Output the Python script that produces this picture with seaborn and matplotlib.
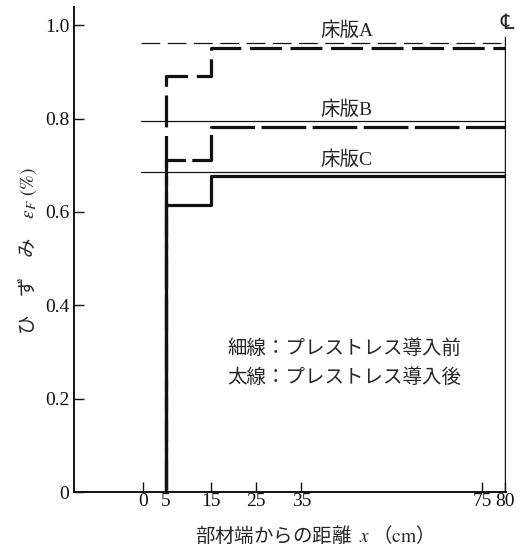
import matplotlib
matplotlib.use('Agg')
import pandas as pd
import matplotlib.pyplot as plt
import seaborn as sns

# ひずみ εF (%) 読み取り値
slabs = ['床版A', '床版B', '床版C']
before = [0.963, 0.794, 0.685]        # 細線：プレストレス導入前
after_5_15 = [0.891, 0.711, 0.615]    # 太線：x = 5〜15 cm
after_15_80 = [0.951, 0.781, 0.677]   # 太線：x = 15〜80 cm
step_x = [5, 15, 80]                  # 段の位置 (cm)
thin_start = -0.5
center_x = 80

x_ticks = [0, 5, 15, 25, 35, 75, 80]
y_ticks = [0, 0.2, 0.4, 0.6, 0.8, 1.0]
y_ticklabels = ['0', '0.2', '0.4', '0.6', '0.8', '1.0']

sns.set_theme(style='ticks')
plt.rcParams['font.family'] = ['Liberation Serif', 'Noto Sans CJK JP', 'DejaVu Sans']
plt.rcParams['mathtext.fontset'] = 'stix'

fig = plt.figure(figsize=(5.24, 5.49), dpi=100)
ax = fig.add_axes([0.1412, 0.1038, 0.8252, 0.8834])

thin_styles = [(0, (15, 6)), '-', '-']
thick_styles = [(0, (10, 2.7)), (0, (14, 2)), '-']

for i, name in enumerate(slabs):
    thin = pd.DataFrame({'x': [thin_start, center_x], 'y': [before[i], before[i]]})
    sns.lineplot(data=thin, x='x', y='y', sort=False, estimator=None,
                 color='#111111', linewidth=0.9, linestyle=thin_styles[i], ax=ax)

    thick = pd.DataFrame({
        'x': [step_x[0], step_x[0], step_x[1], step_x[1], step_x[2]],
        'y': [0, after_5_15[i], after_5_15[i], after_15_80[i], after_15_80[i]],
    })
    sns.lineplot(data=thick, x='x', y='y', sort=False, estimator=None,
                 color='#111111', linewidth=2.3, linestyle=thick_styles[i], ax=ax)

    ax.text(45, before[i] + 0.026, name, ha='center', va='center', fontsize=14)

# 中心線
sns.lineplot(x=[center_x, center_x], y=[0, 0.975], sort=False, estimator=None,
             color='#111111', linewidth=1.0, ax=ax)
ax.text(80.4, 1.004, '\u2104', ha='center', va='center', fontsize=15,
        family=['DejaVu Sans', 'Noto Sans CJK JP'], clip_on=False)

ax.text(18.6, 0.308, '細線：プレストレス導入前', ha='left', va='center', fontsize=14)
ax.text(18.6, 0.246, '太線：プレストレス導入後', ha='left', va='center', fontsize=14)

ax.set_xlim(-15.25, 80.3)
ax.set_ylim(0, 1.039)
ax.set_xticks(x_ticks)
ax.set_xticklabels([str(t) for t in x_ticks])
ax.set_yticks(y_ticks)
ax.set_yticklabels(y_ticklabels)
ax.tick_params(axis='both', direction='in', length=7, width=1.0, labelsize=14,
               colors='#111111')
ax.tick_params(axis='x', pad=0.5)
ax.tick_params(axis='y', pad=3.5)

sns.despine(ax=ax)
for side in ['left', 'bottom']:
    ax.spines[side].set_linewidth(1.4)
    ax.spines[side].set_color('#111111')

# mathtext の地の文は先頭フォントで描かれるので CJK フォントを先に
ax.set_xlabel('部材端からの距離  $x$ （$\\mathrm{cm}$）', fontsize=14,
              family=['Noto Sans CJK JP'])
ax.xaxis.label.set_va('center')
ax.xaxis.set_label_coords(0.543, -0.091)
ax.set_ylabel('ひ\u3000ず\u3000み\u3000$\\varepsilon_F\\ (\\%)$', fontsize=14,
              family=['Noto Sans CJK JP'])
ax.yaxis.label.set_va('center')
ax.yaxis.set_label_coords(-0.1075, 0.496)

fig.savefig('out.png', dpi=100)
